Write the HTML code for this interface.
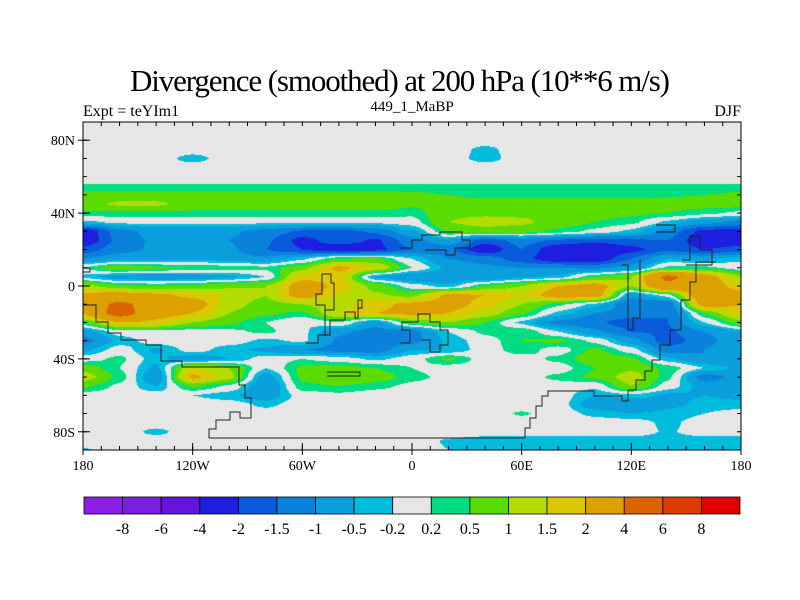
<!DOCTYPE html>
<html><head><meta charset="utf-8"><style>
body{margin:0;background:#fff;width:800px;height:600px;overflow:hidden;font-family:"Liberation Serif",serif}
svg{position:absolute;left:0;top:0}
canvas{position:absolute;left:83px;top:122px}
</style></head><body>
<canvas id="map" width="658" height="328"></canvas>
<svg id="chart" width="800" height="600"></svg>
<script>
const lons=[-180,-160,-140,-120,-100,-80,-60,-40,-20,0,20,40,60,80,100,120,140,160,180];
const lats=[90,85,80,75,70,65,60,55,50,45,40,35,30,25,20,15,10,5,0,-5,-10,-15,-20,-25,-30,-35,-40,-45,-50,-55,-60,-65,-70,-75,-80,-85,-90];
const field=[
[0,0,0,0,0,0,0,0,0,0,0,0,0,0,0,0,0,0,0],
[0,0,0,0,0,0,0,0,0,0,0,0,0,0,0,0,0,0,0],
[0,0,0,0,0,0,0,0,0,0,0,0,0,0,0,0,0,0,0],
[0,0,0,0,0,0,0,0,0,0,0,-0.3,0,0,0,0,0,0,0],
[0,0,0,-0.35,0,0,0,0,0,0,0,-0.35,0,0,0,0,0,0,0],
[0,0,0,0,0,0,0,0,0,0,0,0,0,0,0,0,0,0,0],
[0,0,0,0,0,0,0,0,0,0,0,0,0,0,0,0,0,0,0],
[0.25,0.25,0.25,0.25,0.25,0.25,0.25,0.25,0.25,0.25,0.25,0.25,0.25,0.25,0.25,0.25,0.25,0.25,0.25],
[0.7,0.7,0.7,0.7,0.7,0.7,0.7,0.7,0.7,0.6,0.5,0.4,0.4,0.4,0.4,0.4,0.45,0.5,0.6],
[0.8,1.1,1.1,0.8,0.8,0.8,0.8,0.8,0.8,0.6,0.7,0.7,0.7,0.7,0.7,0.7,0.7,0.7,0.7],
[0.4,0.4,0.4,0.4,0.4,0.4,0.4,0.4,0.4,0.3,0.9,0.9,0.9,0.9,0.7,0.6,0.5,0.3,0.1],
[-0.3,-0.1,-0.1,-0.1,-0.1,-0.1,-0.1,-0.1,-0.1,0,1.0,1.2,1.1,0.8,0.5,0.3,-0.3,-0.8,-1.2],
[-2.5,-1.2,-0.8,-0.8,-0.9,-1.2,-1.6,-1.7,-1.4,-0.6,0.6,0.8,0.7,0.4,0.1,-0.3,-1.2,-2.2,-2.2],
[-2.5,-1.3,-0.9,-0.8,-1.0,-1.4,-2.2,-1.7,-2.1,-1.2,-0.6,-1.8,-1.3,-1.6,-1.8,-1.6,-1.5,-2.5,-2.3],
[-1.8,-1.2,-0.9,-0.7,-0.9,-1.5,-2.0,-2.5,-2.2,-1.5,-1.4,-2.5,-1.5,-2.5,-2.8,-2.2,-1.6,-2.0,-1.8],
[-1.0,-0.7,-0.6,-0.6,-0.7,-0.9,-0.3,0.5,0.6,-0.2,-1.0,-1.2,-1.8,-2.5,-2.5,-1.5,-0.5,-0.6,-0.3],
[0.2,0.9,0.6,0.5,0.4,0.3,0.8,2.2,1.5,0.2,-0.6,-0.9,-1.0,-1.0,-1.1,-0.8,0.3,0.3,0.0],
[-0.3,-0.8,-0.9,-0.8,-0.6,-0.2,1.8,1.7,-0.6,-1.0,-1.0,-1.0,-0.6,-0.4,0.5,1.0,4.5,2.5,1.0],
[1.2,0.6,0.5,0.6,0.9,1.0,2.5,1.8,0.8,0.0,-0.4,0.5,1.0,2.0,2.5,1.0,3.5,2.8,1.5],
[2.2,2.5,2.2,1.8,1.4,1.0,2.5,1.5,1.1,0.8,2.2,2.0,1.5,2.5,2.6,-0.8,0.0,3.0,2.5],
[2.5,4.5,3.0,2.5,1.2,0.8,1.0,1.3,1.8,2.2,2.3,1.8,1.0,0.3,-0.3,-1.5,-1.5,2.5,2.0],
[2.0,5.0,2.5,2.0,1.0,0.6,0.4,1.5,2.0,2.2,2.0,1.3,0.6,-0.3,-1.0,-1.2,-1.5,0.5,1.8],
[0.5,2.0,1.8,1.0,0.6,0.2,-0.2,0.2,-0.8,0.6,1.0,0.5,-0.3,-1.2,-1.4,-1.8,-1.5,-0.2,0.8],
[-0.8,0,0,0,0.1,0.3,-0.1,-0.9,-1.2,-1.2,-0.2,0.3,0.5,-0.2,-0.9,-1.5,-1.6,-1.0,-0.5],
[-1.2,-0.4,0,0.1,0,-0.3,-0.1,-1.1,-1.5,-1.2,-0.4,0.0,0.5,0.6,0.1,-0.8,-1.8,-1.2,-0.6],
[-0.6,0,-0.6,0,-0.4,-0.6,-1.0,-1.2,-1.3,-0.5,-0.5,0,0.4,0,0.6,0,-1.3,-1.0,-0.5],
[0,0.3,-0.4,-0.8,-0.5,0,0.2,0,-0.3,0,0.6,0,0,0.3,0.8,0.6,-0.4,-1.0,-0.9],
[0.8,0.2,-0.6,1.5,1.0,-0.2,0.6,0.7,0.5,0.2,0,0,0,0,0.5,0.9,0.4,-0.2,-0.6],
[1.3,0.4,-1.0,2.2,1.2,-0.8,0.6,1.0,0.8,0.3,0.1,0,0,0.3,0.6,1.3,0.3,-1.3,-0.8],
[0.6,0.1,-0.5,0.6,0.1,-1.0,0.4,0.5,0.3,0.1,0,0,0,0,-0.1,1.0,0,-0.7,-0.6],
[0,0,0,-0.2,-0.4,-0.8,0,0.1,0,0,0,0,0,0,-0.5,-0.3,-0.6,-0.5,-0.6],
[-0.1,0,0,0,0,-0.3,0,0,0,0,0,0,0,0,-0.8,-1.0,-0.6,-0.4,-0.4],
[0,0,0,0,0,0,0,0,0,0,0,0,0.25,0,-0.3,-0.5,-0.4,-0.2,0],
[0,0,0,0,0,0,0,0,0,0,0,0,0,0,0,0,-0.3,0,0],
[0,0,-0.3,0,0,0,0,0,0,0,0,0,0,0,0,0,-0.25,0,0],
[0,0,0,0,0,0,0,0,0,0,-0.25,-0.4,-0.4,-0.4,-0.4,-0.4,-0.4,-0.4,-0.4],
[-0.25,0,0,0,0,0,0,0,0,0,-0.2,-0.4,-0.4,-0.4,-0.4,-0.4,-0.4,-0.4,-0.4]
];
const levels=[-8,-6,-4,-2,-1.5,-1,-0.5,-0.2,0.2,0.5,1,1.5,2,4,6,8];
const levelLabels=["-8","-6","-4","-2","-1.5","-1","-0.5","-0.2","0.2","0.5","1","1.5","2","4","6","8"];
const colors=["#8c1ee6","#7a1ee0","#6414dc","#1e1ee0","#0a5adc","#0a82dc","#0a9edc","#00bcdc","#e6e6e6","#00dc82","#5adc00","#b4dc00","#dcc800","#dca000","#dc6400","#dc3c00","#e00000"];
const latTicks=[80,40,0,-40,-80];
const latTickLabels=["80N","40N","0","40S","80S"];
const lonTicks=[-180,-120,-60,0,60,120,180];
const lonTickLabels=["180","120W","60W","0","60E","120E","180"];

const X0=83,X1=741,Y0=122,Y1=450;
const xOf=lon=>X0+(lon+180)/360*(X1-X0);
const yOf=lat=>Y0+(90-lat)/180*(Y1-Y0);
function hex(c){return [parseInt(c.substr(1,2),16),parseInt(c.substr(3,2),16),parseInt(c.substr(5,2),16)];}
const rgb=colors.map(hex);
function colIdx(v){let i=0;while(i<levels.length&&v>=levels[i])i++;return i;}
function sample(lon,lat){
  let fi=(lon-lons[0])/(lons[1]-lons[0]);fi=Math.max(0,Math.min(lons.length-1.0001,fi));
  let fj=(lats[0]-lat)/(lats[0]-lats[1]);fj=Math.max(0,Math.min(lats.length-1.0001,fj));
  const i=Math.floor(fi),j=Math.floor(fj),a=fi-i,b=fj-j;
  const sa=a*a*(3-2*a)*0.5+a*0.5, sb=b*b*(3-2*b)*0.5+b*0.5;
  const v00=field[j][i],v01=field[j][i+1],v10=field[j+1][i],v11=field[j+1][i+1];
  return (v00*(1-sa)+v01*sa)*(1-sb)+(v10*(1-sa)+v11*sa)*sb;
}
const cv=document.getElementById('map'),ctx=cv.getContext('2d');
const W=cv.width,H=cv.height,img=ctx.createImageData(W,H);
for(let py=0;py<H;py++){const lat=90-(py+0.5)/H*180;
  for(let px=0;px<W;px++){const lon=-180+(px+0.5)/W*360;
    const c=rgb[colIdx(sample(lon,lat))],k=(py*W+px)*4;
    img.data[k]=c[0];img.data[k+1]=c[1];img.data[k+2]=c[2];img.data[k+3]=255;}}
ctx.putImageData(img,0,0);

const NS='http://www.w3.org/2000/svg',svg=document.getElementById('chart');
function mk(t,a,p){const e=document.createElementNS(NS,t);for(const k in a)e.setAttribute(k,a[k]);(p||svg).appendChild(e);return e;}
function txt(s,x,y,size,anchor,name){const e=mk('text',{x:x,y:y,'font-size':size,'text-anchor':anchor||'middle','font-family':'Liberation Serif, serif',fill:'#000'});e.textContent=s;


return e;}
const title=txt('Divergence (smoothed) at 200 hPa (10**6 m/s)',400,91,31,'middle','chart-title');
title.setAttribute('textLength','540');
txt('Expt = teYIm1',83,116,16,'start','experiment-label');
txt('449_1_MaBP',412,111,15,'middle','run-label');
txt('DJF',741,116,16,'end','season-label');

const coasts=[
"209,438 525,438 525,428 530,428 530,418 536,418 536,406 542,406 542,396 548,396 548,391 594,391 594,396 622,396 622,401 628,401 628,390 636,390 636,380 645,380 645,371 652,371 652,360 660,360 660,345 670,345 670,330 681,330 681,300 690,300 690,282 696,282 696,262 716,262",
"209,438 209,429 216,429 216,420 230,420 230,412 240,412 240,418 251,418 251,398 245,398 245,385 239,385 239,367 182,367 182,361 161,361 161,345 146,345 146,340 121,340 121,333 108,333 108,322 96,322 96,305 83,305",
"306,343 318,343 318,335 330,335 330,320 345,320 345,312 355,312 355,318 358,318 358,300 362,300 362,308 358,308",
"325,336 325,305 316,305 316,294 322,294 322,274 331,274 331,283 334,283 334,310 325,310",
"400,343 410,343 410,330 402,330 402,322 418,322 418,314 430,314 430,322 440,322 440,330 448,330 448,345 440,345 440,352 430,352 430,340 422,340",
"400,248 412,248 412,240 422,240 422,235 440,235 440,232 462,232 462,240 470,240 470,248 455,248 455,255 446,255 446,250 425,250",
"622,265 628,265 628,330 633,330 633,318 640,318 640,260",
"656,225 675,225 675,232 656,232",
"682,260 690,260 690,236 700,236 700,250 712,250 712,265 686,265",
"327,372 360,372 360,376 327,376",
"83,268 90,268 90,272 83,272"
];
coasts.forEach((p,i)=>{const e=mk('polyline',{points:p,fill:'none',stroke:'#222','stroke-width':1});

});

const fr=mk('rect',{x:X0,y:Y0,width:X1-X0,height:Y1-Y0,fill:'none',stroke:'#000','stroke-width':1});


for(let lat=-90;lat<=90;lat+=10){const y=yOf(lat);mk('line',{x1:X0,x2:X0+4,y1:y,y2:y,stroke:'#000'});mk('line',{x1:X1,x2:X1-4,y1:y,y2:y,stroke:'#000'});}
for(let lon=-180;lon<=180;lon+=10){const x=xOf(lon);mk('line',{x1:x,x2:x,y1:Y1,y2:Y1-4,stroke:'#000'});mk('line',{x1:x,x2:x,y1:Y0,y2:Y0+4,stroke:'#000'});}
latTicks.forEach((lat,i)=>{const y=yOf(lat);mk('line',{x1:X0-5,x2:X0+7,y1:y,y2:y,stroke:'#000'});
txt(latTickLabels[i],X0-8,y+5,14,'end','y-tick-label');});
lonTicks.forEach((lon,i)=>{const x=xOf(lon);mk('line',{x1:x,x2:x,y1:Y1+5,y2:Y1-7,stroke:'#000'});
txt(lonTickLabels[i],x,Y1+20,14,'middle','x-tick-label');});

const CB0=84,CB1=740,CBY=497,CBH=17,bw=(CB1-CB0)/colors.length;
colors.forEach((c,i)=>{const r=mk('rect',{x:CB0+i*bw,y:CBY,width:bw,height:CBH,fill:c,stroke:'#000','stroke-width':0.8});

});
levelLabels.forEach((s,i)=>{txt(s,CB0+(i+1)*bw,CBY+CBH+20,16,'middle','colorbar-label');});
</script>
</body></html>
